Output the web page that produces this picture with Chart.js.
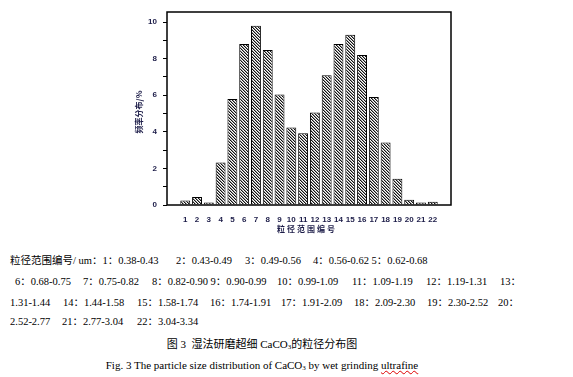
<!DOCTYPE html>
<html>
<head>
<meta charset="utf-8">
<script src="https://cdn.jsdelivr.net/npm/chart.js@4.4.0/dist/chart.umd.min.js"></script>
<style>
  body { margin: 0; background: #fff; width: 573px; height: 377px; overflow: hidden; position: relative; }
  #wrap { position: absolute; left: 0; top: 0; width: 573px; height: 240px; }
  .t { position: absolute; white-space: pre; font-family: "Liberation Serif", "Noto Sans CJK SC", serif; font-size: 10.5px; line-height: 14px; color: #000; }
  .c { left: 0; width: 524px; text-align: center; font-size: 11px; }
  .t sub { font-size: 7px; line-height: 0; vertical-align: -1px; }
  .wavy { text-decoration: underline wavy #d00; text-decoration-thickness: 1px; }
</style>
</head>
<body>
<div id="wrap"><canvas id="chart" width="573" height="240"></canvas></div>

<div class="t" style="left:10px;top:254px">粒径范围编号/ um：1：0.38-0.43</div>
<div class="t" style="left:176px;top:254px">2：0.43-0.49</div>
<div class="t" style="left:245px;top:254px">3：0.49-0.56</div>
<div class="t" style="left:313px;top:254px">4：0.56-0.62 5：0.62-0.68</div>

<div class="t" style="left:15px;top:275px">6：0.68-0.75</div>
<div class="t" style="left:83px;top:275px">7：0.75-0.82</div>
<div class="t" style="left:152px;top:275px">8：0.82-0.90 9：0.90-0.99</div>
<div class="t" style="left:277px;top:275px">10：0.99-1.09</div>
<div class="t" style="left:352px;top:275px">11：1.09-1.19</div>
<div class="t" style="left:426px;top:275px">12：1.19-1.31</div>
<div class="t" style="left:500px;top:275px">13：</div>

<div class="t" style="left:10px;top:296px">1.31-1.44</div>
<div class="t" style="left:63px;top:296px">14：1.44-1.58</div>
<div class="t" style="left:137px;top:296px">15：1.58-1.74</div>
<div class="t" style="left:210px;top:296px">16：1.74-1.91</div>
<div class="t" style="left:281px;top:296px">17：1.91-2.09</div>
<div class="t" style="left:354px;top:296px">18：2.09-2.30</div>
<div class="t" style="left:427px;top:296px">19：2.30-2.52</div>
<div class="t" style="left:498px;top:296px">20：</div>

<div class="t" style="left:10px;top:315px">2.52-2.77</div>
<div class="t" style="left:62px;top:315px">21：2.77-3.04</div>
<div class="t" style="left:137px;top:315px">22：3.04-3.34</div>

<div class="t c" style="top:337px">图 3  湿法研磨超细 CaCO<sub>3</sub>的粒径分布图</div>
<div class="t c" style="top:358px">Fig. 3 The particle size distribution of CaCO<sub>3</sub> by wet grinding <span class="wavy">ultrafine</span></div>

<script>
// size range numbers 1..22 and their share in %
const rangeNo = [1, 2, 3, 4, 5, 6, 7, 8, 9, 10, 11, 12, 13, 14, 15, 16, 17, 18, 19, 20, 21, 22];
const freq = [0.24, 0.44, 0.13, 2.32, 5.79, 8.8, 9.8, 8.47, 6.04, 4.23, 3.92, 5.05,
              7.09, 8.8, 9.3, 8.2, 5.91, 3.42, 1.43, 0.29, 0.13, 0.18];
const yTicks = [0, 2, 4, 6, 8, 10];

const xTitle = '粒径范围编号';
const yTitle = '频率分布/%';
const tickColor = '#1c1c48';

// dense diagonal hatch like the original bars
function makeHatch() {
    const c = document.createElement('canvas');
    c.width = 3; c.height = 3;
    const g = c.getContext('2d');
    g.fillStyle = '#fff';
    g.fillRect(0, 0, 3, 3);
    for (let x = 0; x < 3; x++) {
        for (let y = 0; y < 3; y++) {
            const k = (x - y + 3) % 3;
            if (k === 0) { g.fillStyle = '#111'; g.fillRect(x, y, 1, 1); }
            if (k === 1) { g.fillStyle = '#999'; g.fillRect(x, y, 1, 1); }
        }
    }
    return g.createPattern(c, 'repeat');
}

// frame around plot + axis titles
const framePlugin = {
    id: 'frame',
    afterDraw(chart) {
        const a = chart.chartArea;
        const ctx = chart.ctx;
        ctx.save();
        ctx.strokeStyle = '#000';
        ctx.lineWidth = 1.5;
        ctx.strokeRect(a.left, a.top, a.right - a.left, a.bottom - a.top);

        ctx.fillStyle = tickColor;
        ctx.font = 'bold 8px "Noto Sans CJK SC", sans-serif';
        ctx.textAlign = 'center';
        ctx.textBaseline = 'middle';
        ctx.letterSpacing = '2px';
        ctx.fillText(xTitle, 307, 229);
        ctx.letterSpacing = '0px';
        ctx.translate(139, 112);
        ctx.rotate(-Math.PI / 2);
        ctx.fillText(yTitle, 0, 0);
        ctx.restore();
    }
};

const ctx = document.getElementById('chart').getContext('2d');
const myChart = new Chart(ctx, {
    type: 'bar',
    data: {
        datasets: [{
            data: rangeNo.map((n, i) => ({ x: n, y: freq[i] })),
            backgroundColor: makeHatch(),
            borderColor: '#000',
            borderWidth: 1,
            borderSkipped: 'bottom',
            categoryPercentage: 1,
            barPercentage: 0.84
        }]
    },
    options: {
        responsive: false,
        animation: false,
        layout: { padding: { left: 127, right: 122, top: 12, bottom: 0 } },
        plugins: { legend: { display: false }, tooltip: { enabled: false } },
        scales: {
            x: {
                type: 'linear',
                min: 0,
                max: 23,
                afterFit: s => { s.height = 35; },
                afterBuildTicks: s => { s.ticks = rangeNo.map(v => ({ value: v })); },
                grid: { display: false },
                border: { display: false },
                ticks: {
                    padding: 2,
                    autoSkip: false,
                    maxRotation: 0,
                    color: tickColor,
                    font: { family: 'Liberation Sans', size: 8, weight: 'bold' },
                    callback: v => String(v)
                }
            },
            y: {
                min: 0,
                max: 10.55,
                afterFit: s => { s.width = 40; },
                afterBuildTicks: s => {
                    s.ticks = [];
                    for (let v = 0; v <= 10; v++) s.ticks.push({ value: v });
                },
                grid: { drawOnChartArea: false, drawTicks: true, tickLength: 4, tickColor: '#000', lineWidth: 1 },
                border: { display: false },
                ticks: {
                    padding: 6,
                    color: tickColor,
                    font: { family: 'Liberation Sans', size: 8, weight: 'bold' },
                    callback: v => yTicks.includes(v) ? String(v) : ''
                }
            }
        }
    },
    plugins: [framePlugin]
});
</script>
</body>
</html>
